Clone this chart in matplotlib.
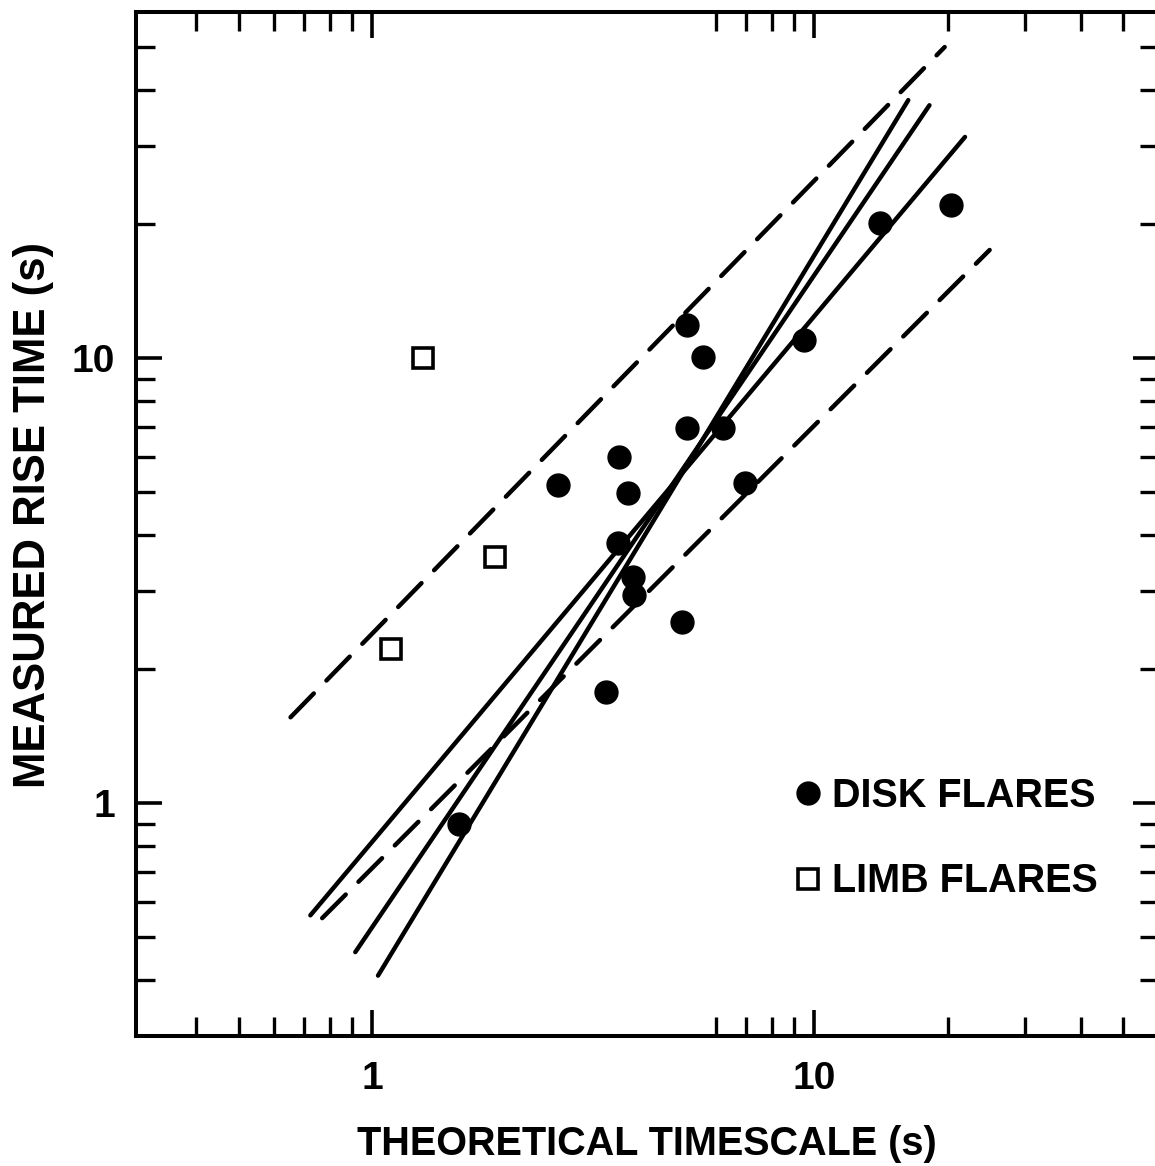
import matplotlib
matplotlib.use("Agg")
import matplotlib.pyplot as plt
from matplotlib.lines import Line2D
from matplotlib.ticker import FixedLocator, FixedFormatter, NullFormatter

plt.rcParams['font.family'] = ['Liberation Sans', 'DejaVu Sans']
plt.rcParams['font.weight'] = 'bold'
plt.rcParams['axes.labelweight'] = 'bold'
plt.rcParams['lines.scale_dashes'] = False

# ---- data ----
disk_x = [1.57, 2.63, 3.38, 3.60, 3.62, 3.79, 3.89, 3.91, 5.02, 5.15, 5.15, 5.60, 6.21, 6.96, 9.47, 14.06, 20.35]
disk_y = [0.90, 5.18, 1.78, 3.84, 5.99, 4.97, 3.22, 2.93, 2.56, 11.9, 6.96, 10.05, 6.96, 5.24, 10.97, 20.1, 22.1]

limb_x = [1.10, 1.30, 1.89]
limb_y = [2.22, 10.0, 3.57]

# fit / envelope lines (end points)
upper_dash_x = [0.653, 19.7]
upper_dash_y = [1.56, 50.0]
lower_dash_x = [0.77, 24.9]
lower_dash_y = [0.552, 17.5]
fit_a_x = [0.724, 21.9]
fit_a_y = [0.56, 31.4]
fit_b_x = [0.915, 18.2]
fit_b_y = [0.463, 37.0]
fit_c_x = [1.03, 16.3]
fit_c_y = [0.41, 38.0]

x_major = [1, 10]
x_major_labels = ['1', '10']
x_minor = [0.4, 0.5, 0.6, 0.7, 0.8, 0.9, 6, 7, 8, 9, 20, 30, 40, 50]
y_major = [1, 10]
y_major_labels = ['1', '10']
y_minor = [0.4, 0.5, 0.6, 0.7, 0.8, 0.9, 2, 3, 4, 5, 6, 7, 8, 9, 20, 30, 40, 50]

legend_labels = ['DISK FLARES', 'LIMB FLARES']

# ---- figure ----
W, H = 1155, 1166
fig = plt.figure(figsize=(W / 100, H / 100), dpi=100)
ax = fig.add_axes([136 / W, (H - 1036) / H, (1158.5 - 136) / W, (1036 - 11.8) / H])
ax.set_xscale('log')
ax.set_yscale('log')
ax.set_xlim(0.292, 60)
ax.set_ylim(0.3, 60)

lw = 3.2
dash = (24, 13)
ax.plot(upper_dash_x, upper_dash_y, color='black', lw=lw, dashes=dash, dash_capstyle='round')
ax.plot(lower_dash_x, lower_dash_y, color='black', lw=lw, dashes=dash, dash_capstyle='round')
for xs, ys in [(fit_a_x, fit_a_y), (fit_b_x, fit_b_y), (fit_c_x, fit_c_y)]:
    ax.plot(xs, ys, color='black', lw=lw, solid_capstyle='round')

ax.plot(disk_x, disk_y, linestyle='none', marker='o', markersize=16.5,
        markerfacecolor='black', markeredgecolor='black', zorder=5)
ax.plot(limb_x, limb_y, linestyle='none', marker='s', markersize=14,
        markerfacecolor='white', markeredgecolor='black', markeredgewidth=2.6, zorder=5)

handles = [
    Line2D([], [], linestyle='none', marker='o', markersize=16.5,
           markerfacecolor='black', markeredgecolor='black'),
    Line2D([], [], linestyle='none', marker='s', markersize=14,
           markerfacecolor='white', markeredgecolor='black', markeredgewidth=2.6),
]
leg = ax.legend(handles, legend_labels, loc='upper left',
                bbox_to_anchor=((796 - 136) / (1158.5 - 136), (1036 - 777) / (1036 - 11.8)),
                frameon=False, fontsize=28.5, handlelength=0.6, handletextpad=0.3,
                labelspacing=1.2, borderpad=0, borderaxespad=0)

# ticks
ax.xaxis.set_major_locator(FixedLocator(x_major))
ax.xaxis.set_major_formatter(FixedFormatter(x_major_labels))
ax.xaxis.set_minor_locator(FixedLocator(x_minor))
ax.xaxis.set_minor_formatter(NullFormatter())
ax.yaxis.set_major_locator(FixedLocator(y_major))
ax.yaxis.set_major_formatter(FixedFormatter(y_major_labels))
ax.yaxis.set_minor_locator(FixedLocator(y_minor))
ax.yaxis.set_minor_formatter(NullFormatter())

ax.tick_params(which='both', direction='in', top=True, right=True, colors='black')
ax.tick_params(which='major', length=19, width=2.6, labelsize=28, pad=15)
ax.tick_params(which='minor', length=14, width=2.4)
ax.tick_params(axis='x', which='major', pad=18)

for s in ax.spines.values():
    s.set_linewidth(2.9)

ax.set_xlabel('THEORETICAL TIMESCALE (s)', fontsize=28.5, fontweight='bold', labelpad=20)
ax.set_ylabel('MEASURED RISE TIME (s)', fontsize=31.5, fontweight='bold', labelpad=13)
ax.yaxis.label.set_y(0.509)

fig.savefig('out.png', dpi=100)
